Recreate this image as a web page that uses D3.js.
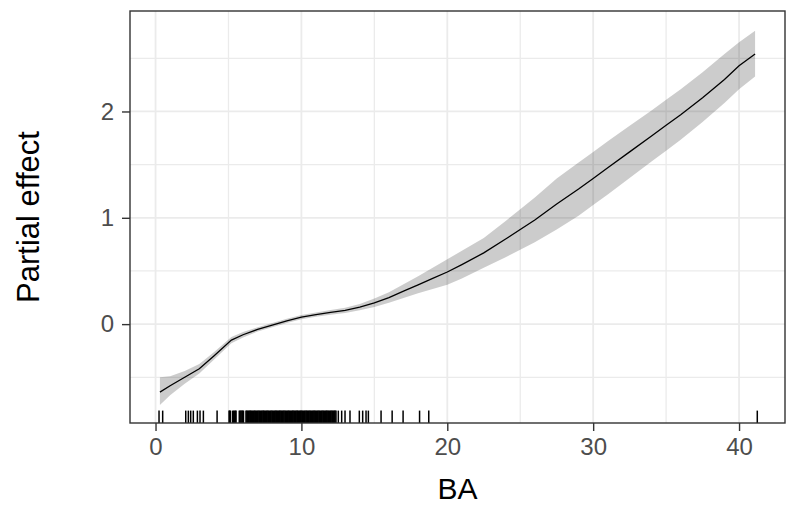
<!DOCTYPE html>
<html>
<head>
<meta charset="utf-8">
<script src="https://d3js.org/d3.v7.min.js"></script>
<style>
  body { margin: 0; background: #fff; }
  text { font-family: "Liberation Sans", Arial, sans-serif; }
</style>
</head>
<body>
<svg width="790" height="506"></svg>
<script>
// smooth term for BA
var ba    = [0.3, 1, 2, 3, 4, 5.2, 6, 7, 8, 9, 10, 11, 12, 13, 14, 15, 16, 17, 18, 19, 20, 21, 22.5, 24, 25, 26, 27.5, 29, 30, 31, 32.5, 34, 35, 36, 37.5, 39, 40, 41.1];
var fit   = [-0.64, -0.58, -0.50, -0.42, -0.30, -0.15, -0.10, -0.05, -0.01, 0.03, 0.065, 0.09, 0.11, 0.13, 0.16, 0.20, 0.25, 0.31, 0.37, 0.43, 0.49, 0.56, 0.67, 0.80, 0.89, 0.98, 1.13, 1.27, 1.37, 1.47, 1.62, 1.77, 1.87, 1.97, 2.13, 2.30, 2.43, 2.54];
var lower = [-0.76, -0.67, -0.56, -0.465, -0.335, -0.18, -0.125, -0.07, -0.03, 0.01, 0.045, 0.07, 0.088, 0.105, 0.13, 0.16, 0.20, 0.245, 0.29, 0.33, 0.37, 0.43, 0.53, 0.63, 0.70, 0.77, 0.89, 1.02, 1.12, 1.22, 1.375, 1.53, 1.63, 1.735, 1.90, 2.08, 2.21, 2.33];
var upper = [-0.50, -0.49, -0.44, -0.375, -0.265, -0.12, -0.075, -0.03, 0.01, 0.05, 0.085, 0.11, 0.132, 0.155, 0.19, 0.24, 0.30, 0.375, 0.45, 0.53, 0.61, 0.69, 0.81, 0.97, 1.08, 1.19, 1.37, 1.52, 1.62, 1.72, 1.865, 2.01, 2.11, 2.21, 2.37, 2.54, 2.65, 2.76];

// observed BA values (rug)
var rug = [0.24, 0.49, 2.07, 2.25, 2.41, 2.59, 2.87, 3.05, 3.28, 4.22,
  5.04, 5.09, 5.14, 5.29, 5.35, 5.41, 5.47, 5.52, 5.74, 5.80, 5.86, 5.92, 5.98, 6.03,
  6.2, 6.26, 6.31, 6.37, 6.42, 6.48, 6.53, 6.59, 6.64, 6.7, 6.76, 6.81, 6.87, 6.92, 6.98,
  7.03, 7.09, 7.14, 7.2, 7.25, 7.31, 7.37, 7.42, 7.48, 7.53, 7.59, 7.64, 7.7, 7.75, 7.81, 7.87, 7.92, 7.98,
  8.03, 8.09, 8.14, 8.2, 8.25, 8.31, 8.37, 8.42, 8.48, 8.53, 8.59, 8.64, 8.7, 8.75, 8.81, 8.87, 8.92, 8.98,
  9.03, 9.09, 9.14, 9.2, 9.25, 9.31, 9.37, 9.42, 9.48, 9.53, 9.59, 9.64, 9.7, 9.75, 9.81, 9.87, 9.92, 9.98,
  10.03, 10.09, 10.14, 10.2, 10.25, 10.31, 10.37, 10.42, 10.48, 10.53, 10.59, 10.64, 10.7, 10.75, 10.81, 10.87, 10.92, 10.98,
  11.03, 11.09, 11.14, 11.2, 11.25, 11.31, 11.37, 11.42, 11.48, 11.53, 11.59, 11.64, 11.7, 11.75, 11.81, 11.87, 11.92, 11.98,
  12.03, 12.09, 12.14, 12.2, 12.25, 12.31, 12.37,
  12.53, 12.76, 12.99, 13.33, 13.97, 14.2, 14.43, 14.59, 15.46, 16.22, 16.97, 18.1, 18.73, 41.25];

var xMajor = [0, 10, 20, 30, 40];
var xMinor = [5, 15, 25, 35];
var yMajor = [0, 1, 2];
var yMinor = [-0.5, 0.5, 1.5, 2.5];

var svg = d3.select("svg");
var pLeft = 130, pRight = 785, pTop = 11, pBottom = 423;

var x = d3.scaleLinear().domain([-1.75, 43.15]).range([pLeft, pRight]);
var y = d3.scaleLinear().domain([-0.93, 2.945]).range([pBottom, pTop]);

var grid = svg.append("g");
grid.selectAll(".vmin").data(xMinor).enter().append("line")
    .attr("x1", x).attr("x2", x).attr("y1", pTop).attr("y2", pBottom)
    .attr("stroke", "#ebebeb").attr("stroke-width", 1.3);
grid.selectAll(".hmin").data(yMinor).enter().append("line")
    .attr("x1", pLeft).attr("x2", pRight).attr("y1", y).attr("y2", y)
    .attr("stroke", "#ebebeb").attr("stroke-width", 1.3);
grid.selectAll(".vmaj").data(xMajor).enter().append("line")
    .attr("x1", x).attr("x2", x).attr("y1", pTop).attr("y2", pBottom)
    .attr("stroke", "#ebebeb").attr("stroke-width", 1.8);
grid.selectAll(".hmaj").data(yMajor).enter().append("line")
    .attr("x1", pLeft).attr("x2", pRight).attr("y1", y).attr("y2", y)
    .attr("stroke", "#ebebeb").attr("stroke-width", 1.8);

var pts = ba.map(function(d, i) { return {x: d, f: fit[i], lo: lower[i], hi: upper[i]}; });

svg.append("path")
    .datum(pts)
    .attr("fill", "#000")
    .attr("fill-opacity", 0.2)
    .attr("d", d3.area()
      .x(function(d) { return x(d.x); })
      .y0(function(d) { return y(d.lo); })
      .y1(function(d) { return y(d.hi); }));

svg.append("path")
    .datum(pts)
    .attr("fill", "none")
    .attr("stroke", "#000")
    .attr("stroke-width", 1.3)
    .attr("d", d3.line()
      .x(function(d) { return x(d.x); })
      .y(function(d) { return y(d.f); }));

// rug along the bottom
svg.append("g").selectAll("line").data(rug).enter().append("line")
    .attr("x1", x).attr("x2", x)
    .attr("y1", pBottom).attr("y2", pBottom - 12.4)
    .attr("stroke", "#000").attr("stroke-width", 1.5);

// panel border
svg.append("rect")
    .attr("x", pLeft).attr("y", pTop)
    .attr("width", pRight - pLeft).attr("height", pBottom - pTop)
    .attr("fill", "none").attr("stroke", "#333").attr("stroke-width", 1.4);

// axes
var xAxis = svg.append("g")
    .attr("transform", "translate(0," + pBottom + ")")
    .call(d3.axisBottom(x).tickValues(xMajor).tickSize(8).tickPadding(7).tickFormat(d3.format("d")));
var yAxis = svg.append("g")
    .attr("transform", "translate(" + pLeft + ",0)")
    .call(d3.axisLeft(y).tickValues(yMajor).tickSize(8).tickPadding(8).tickFormat(d3.format("d")));

[xAxis, yAxis].forEach(function(a) {
  a.select(".domain").remove();
  a.selectAll(".tick line").attr("stroke", "#333").attr("stroke-width", 1.4);
  a.selectAll(".tick text")
    .attr("fill", "#4d4d4d")
    .style("font-size", "24px")
    .style("font-family", "'Liberation Sans', Arial, sans-serif");
});

svg.append("text")
    .attr("x", (pLeft + pRight) / 2)
    .attr("y", 499)
    .attr("text-anchor", "middle")
    .attr("fill", "#000")
    .style("font-size", "30px")
    .text("BA");

svg.append("text")
    .attr("transform", "translate(39," + (pTop + pBottom) / 2 + ") rotate(-90)")
    .attr("text-anchor", "middle")
    .attr("fill", "#000")
    .style("font-size", "31px")
    .text("Partial effect");
</script>
</body>
</html>
